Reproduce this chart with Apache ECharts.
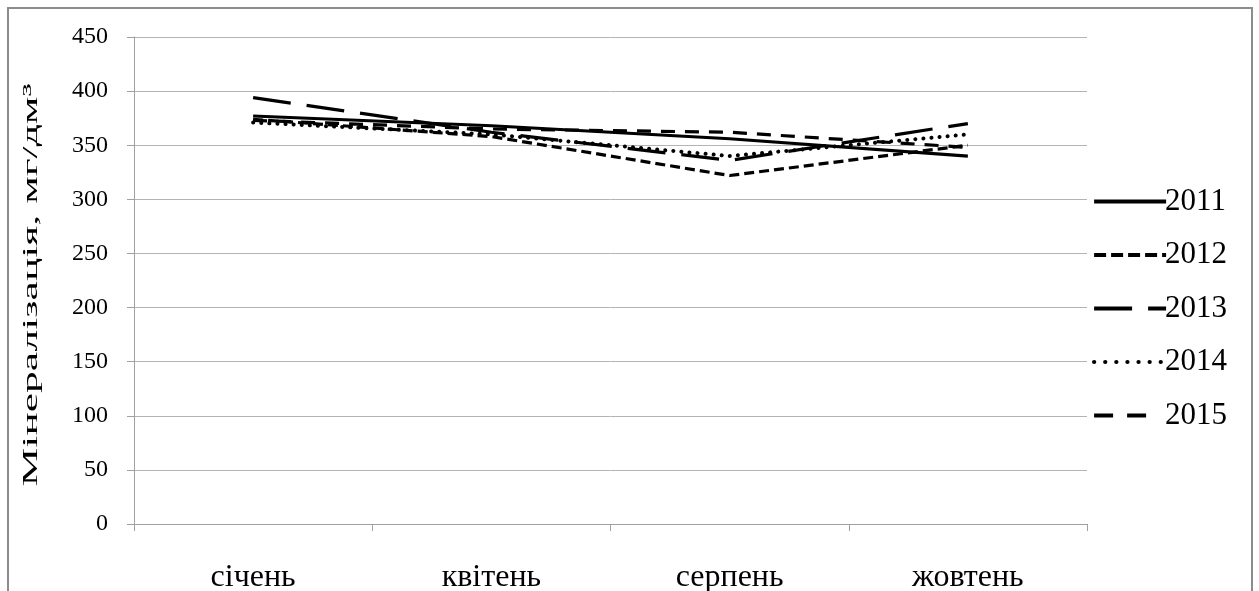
<!DOCTYPE html>
<html><head><meta charset="utf-8">
<script src="https://cdn.jsdelivr.net/npm/echarts@6/dist/echarts.min.js"></script>
<style>
html,body{margin:0;padding:0;background:#fff;}
#frame{position:absolute;left:7px;top:7px;width:1246px;height:600px;border:2px solid #8c8c8c;box-sizing:border-box;}
#c{position:absolute;left:0;top:0;width:1259px;height:591px;}
</style></head>
<body>
<div id="frame"></div>
<div id="c"></div>
<script>
const categories = ['січень', 'квітень', 'серпень', 'жовтень'];
const years = ['2011', '2012', '2013', '2014', '2015'];
const v2011 = [377, 368, 356, 340];
const v2012 = [374, 358, 322, 350];
const v2013 = [394, 362, 336, 370];
const v2014 = [371, 360, 340, 360];
const v2015 = [373, 365, 362, 348];
const yTicks = [0, 450, 50];
const yTitle = 'Мінералізація, мг/дм³';

const values = [v2011, v2012, v2013, v2014, v2015];
const dashes = ['solid', [10, 5], [38, 16], [0.1, 8], [14, 10]];
const legendDashes = ['solid', [12, 5], [38, 16], [0.1, 11], [19, 14, 19, 40]];
const caps = ['butt', 'butt', 'butt', 'round', 'butt'];
const widths = [3.2, 3.2, 3.2, 4, 3.2];
const font = '"Liberation Serif", "DejaVu Serif", serif';

const chart = echarts.init(document.getElementById('c'), null, {renderer: 'canvas'});
chart.setOption({
  animation: false,
  backgroundColor: 'transparent',
  grid: {left: 134, right: 172, top: 37, bottom: 67, outerBoundsMode: 'none', containLabel: false},
  legend: {
    orient: 'vertical', left: 1087, top: 181,
    itemWidth: 72, itemHeight: 14, itemGap: 22.5,
    data: years.map((y, i) => ({name: y, lineStyle: {width: 4.2, type: legendDashes[i], cap: caps[i], color: '#000'}})),
    itemStyle: {opacity: 0},
    textStyle: {fontFamily: font, fontSize: 31, lineHeight: 30, color: '#000', padding: [0, 0, 0, -6]}
  },
  graphic: [{
    type: 'text', x: 31, y: 285, rotation: Math.PI / 2, scaleX: 1.98, scaleY: 1,
    style: {text: yTitle, font: '22px ' + font, fill: '#000', align: 'center', verticalAlign: 'middle'}
  }],
  xAxis: {
    type: 'category', data: categories, boundaryGap: true,
    axisLine: {lineStyle: {color: '#a0a0a0', width: 1}},
    axisTick: {show: true, length: 7, lineStyle: {color: '#a0a0a0'}},
    axisLabel: {fontFamily: font, fontSize: 32, color: '#000', margin: 38}
  },
  yAxis: {
    type: 'value', min: yTicks[0], max: yTicks[1], interval: yTicks[2],
    axisLine: {show: true, lineStyle: {color: '#a0a0a0'}},
    axisTick: {show: true, length: 7, lineStyle: {color: '#a0a0a0'}},
    axisLabel: {fontFamily: font, fontSize: 24, color: '#000', margin: 26},
    splitLine: {lineStyle: {color: '#b4b4b4', width: 1}}
  },
  series: years.map((y, i) => ({
    name: y, type: 'line', data: values[i], symbol: 'none',
    itemStyle: {color: 'rgba(0,0,0,0)'},
    lineStyle: {color: '#000', width: widths[i], type: dashes[i], cap: caps[i]}
  }))
});
</script>
</body></html>
